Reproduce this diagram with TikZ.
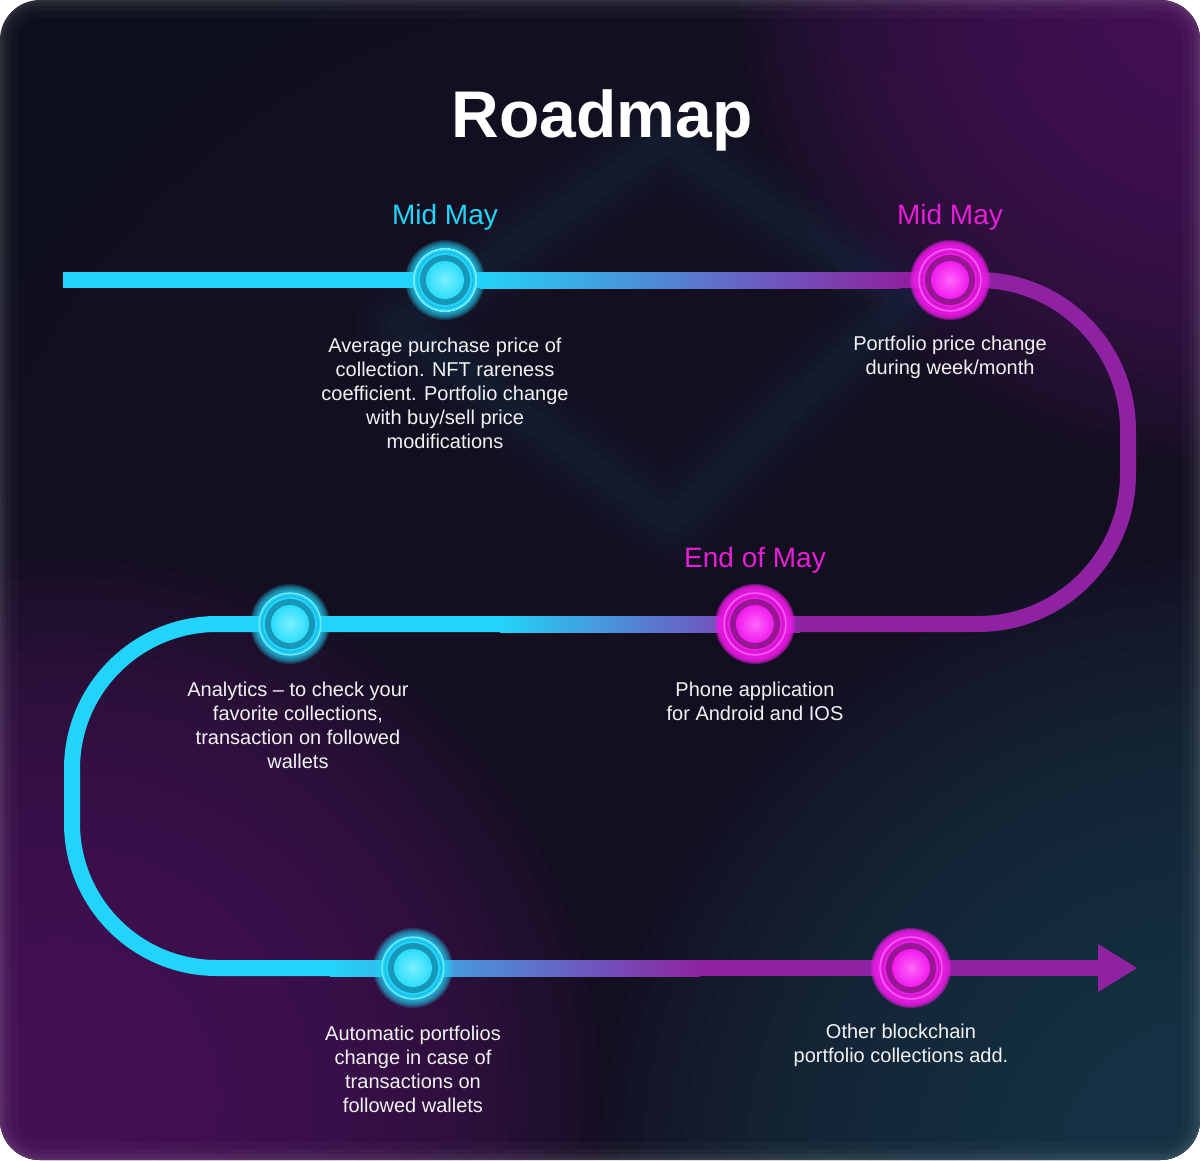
\documentclass[tikz,border=0pt]{standalone}
\usepackage{fontspec}
\setmainfont{Liberation Sans}

% palette
\definecolor{bgbase}{HTML}{0D0F1C}
\definecolor{bgmid}{HTML}{21162F}
\definecolor{bgpurple}{HTML}{521B63}
\definecolor{bgteal}{HTML}{153F50}
\definecolor{logoteal}{HTML}{18506A}
\definecolor{cy}{HTML}{22D4F9}
\definecolor{cyband}{HTML}{1896B8}
\definecolor{cycore}{HTML}{2BDDFB}
\definecolor{cylight}{HTML}{7CEEFF}
\definecolor{pu}{HTML}{8E22A2}
\definecolor{mg}{HTML}{E81CE4}
\definecolor{mgband}{HTML}{961694}
\definecolor{mgcore}{HTML}{F01AEE}
\definecolor{mglight}{HTML}{FF66FA}
\definecolor{mgtext}{HTML}{E41FD6}
\definecolor{txt}{HTML}{F2F2F4}

% soft light made of stacked translucent discs: colour, centre, radius, steps, opacity per step
\newcommand\softlight[5]{%
  \foreach \k in {1,...,#4}
    \fill[#1, opacity=#5] #2 circle ({#3/#4*\k});}
% halo ring around a stop: colour, centre
\newcommand\halo[2]{%
  \foreach \r in {31,...,40}
    \fill[#1, opacity=0.16] #2 circle (\r);}

\tikzset{
  track/.style={line width=16, line cap=butt},
  stopcy/.style={circle, inner sep=0, minimum size=62, fill=cy, draw=cylight, line width=1.2,
    path picture={
      \draw[cyband!60!cy, line width=0.8] (path picture bounding box.center) circle (28);
      \fill[cyband] (path picture bounding box.center) circle (25);
      \shade[inner color=cylight, outer color=cycore] (path picture bounding box.center) circle (19);}},
  stopmg/.style={circle, inner sep=0, minimum size=62, fill=mg, draw=mglight, line width=1.2,
    path picture={
      \draw[mgband!60!mg, line width=0.8] (path picture bounding box.center) circle (28);
      \fill[mgband] (path picture bounding box.center) circle (25);
      \shade[inner color=mglight, outer color=mgcore] (path picture bounding box.center) circle (19);}},
  datecy/.style={anchor=base, text=cy, font=\fontsize{28}{32}\selectfont},
  datemg/.style={anchor=base, text=mgtext, font=\fontsize{28}{32}\selectfont},
  desc/.style={text=txt, font=\fontsize{20}{24}\selectfont, align=center, inner sep=0},
}

\begin{document}
\begin{tikzpicture}[x=1pt, y=-1pt]
\useasboundingbox (0,0) rectangle (1200,1160);
\fill[white] (0,0) rectangle (1200,1160);

% card background
\begin{scope}
  \clip[rounded corners=40] (0,0) rectangle (1200,1160);
  \fill[bgbase] (0,0) rectangle (1200,1160);
  \softlight{bgmid}{(680,720)}{820}{30}{0.07}
  \softlight{bgteal}{(1220,1180)}{620}{30}{0.065}
  \softlight{bgpurple}{(60,1100)}{540}{30}{0.07}
  \softlight{bgpurple}{(1220,-20)}{480}{30}{0.07}
  % faint blurred emblem
  \softlight{logoteal}{(640,330)}{230}{20}{0.012}
  \foreach \w/\o in {90/0.04, 64/0.05, 42/0.06, 24/0.07}
    \draw[logoteal, line width=\w, opacity=\o, line join=round]
      (665,140) -- (905,300) -- (670,522) -- (400,325) -- cycle;
  % inner edge light
  \foreach \w/\o in {36/0.025, 22/0.03, 12/0.04, 5/0.05}
    \draw[white, opacity=\o, line width=\w, rounded corners=40] (0,0) rectangle (1200,1160);
\end{scope}

% stop positions
\coordinate (p1) at (445,280);
\coordinate (p2) at (950,280);
\coordinate (p3) at (755,624);
\coordinate (p4) at (290,624);
\coordinate (p5) at (413,968);
\coordinate (p6) at (911,968);
\coordinate (start) at (63,280);
\coordinate (tip) at (1137,968);

% first row
\fill[cy] (63,272) rectangle (481,288);
\draw[pu, track] (899,280) -- (978,280) arc(-90:0:150) -- (1128,474) arc(0:90:150) -- (799,624);
\shade[left color=cy, right color=pu] (480,272) rectangle (900,288);
% second row
\draw[cy, track] (501,624) -- (217,624) arc(270:180:145) -- (72,823) arc(180:90:145) -- (331,968);
\shade[left color=cy, right color=pu] (500,616) rectangle (800,632);
% third row
\fill[pu] (699,960) rectangle (1098,976);
\shade[left color=cy, right color=pu] (330,960) rectangle (700,976);
\fill[pu] (1098,944) -- (tip) -- (1098,992) -- cycle;

% glowing stops
\foreach \p in {p1,p4,p5} \halo{cy}{(\p)}
\foreach \p in {p2,p3,p6} \halo{mg}{(\p)}
\node[stopcy] (s1) at (p1) {};
\node[stopmg] (s2) at (p2) {};
\node[stopmg] (s3) at (p3) {};
\node[stopcy] (s4) at (p4) {};
\node[stopcy] (s5) at (p5) {};
\node[stopmg] (s6) at (p6) {};

% title and dates
\node[anchor=base, text=white, font=\bfseries\fontsize{66}{70}\selectfont] (title) at (602,137) {Roadmap};
\node[datecy] (d1) at (445,224) {Mid May};
\node[datemg] (d2) at (950,224) {Mid May};
\node[datemg] (d3) at (755,567) {End of May};

% descriptions
\node[desc] (t1) at (445,393) {Average purchase price of\\collection. NFT rareness\\coefficient. Portfolio change\\with buy/sell price\\modifications};
\node[desc] (t2) at (950,357) {Portfolio price change\\during week/month};
\node[desc] (t3) at (755,701) {Phone application\\for Android and IOS};
\node[desc] (t4) at (298,725) {Analytics -- to check your\\favorite collections,\\transaction on followed\\wallets};
\node[desc] (t5) at (413,1069) {Automatic portfolios\\change in case of\\transactions on\\followed wallets};
\node[desc] (t6) at (901,1045) {Other blockchain\\portfolio collections add.};
\end{tikzpicture}
\end{document}
